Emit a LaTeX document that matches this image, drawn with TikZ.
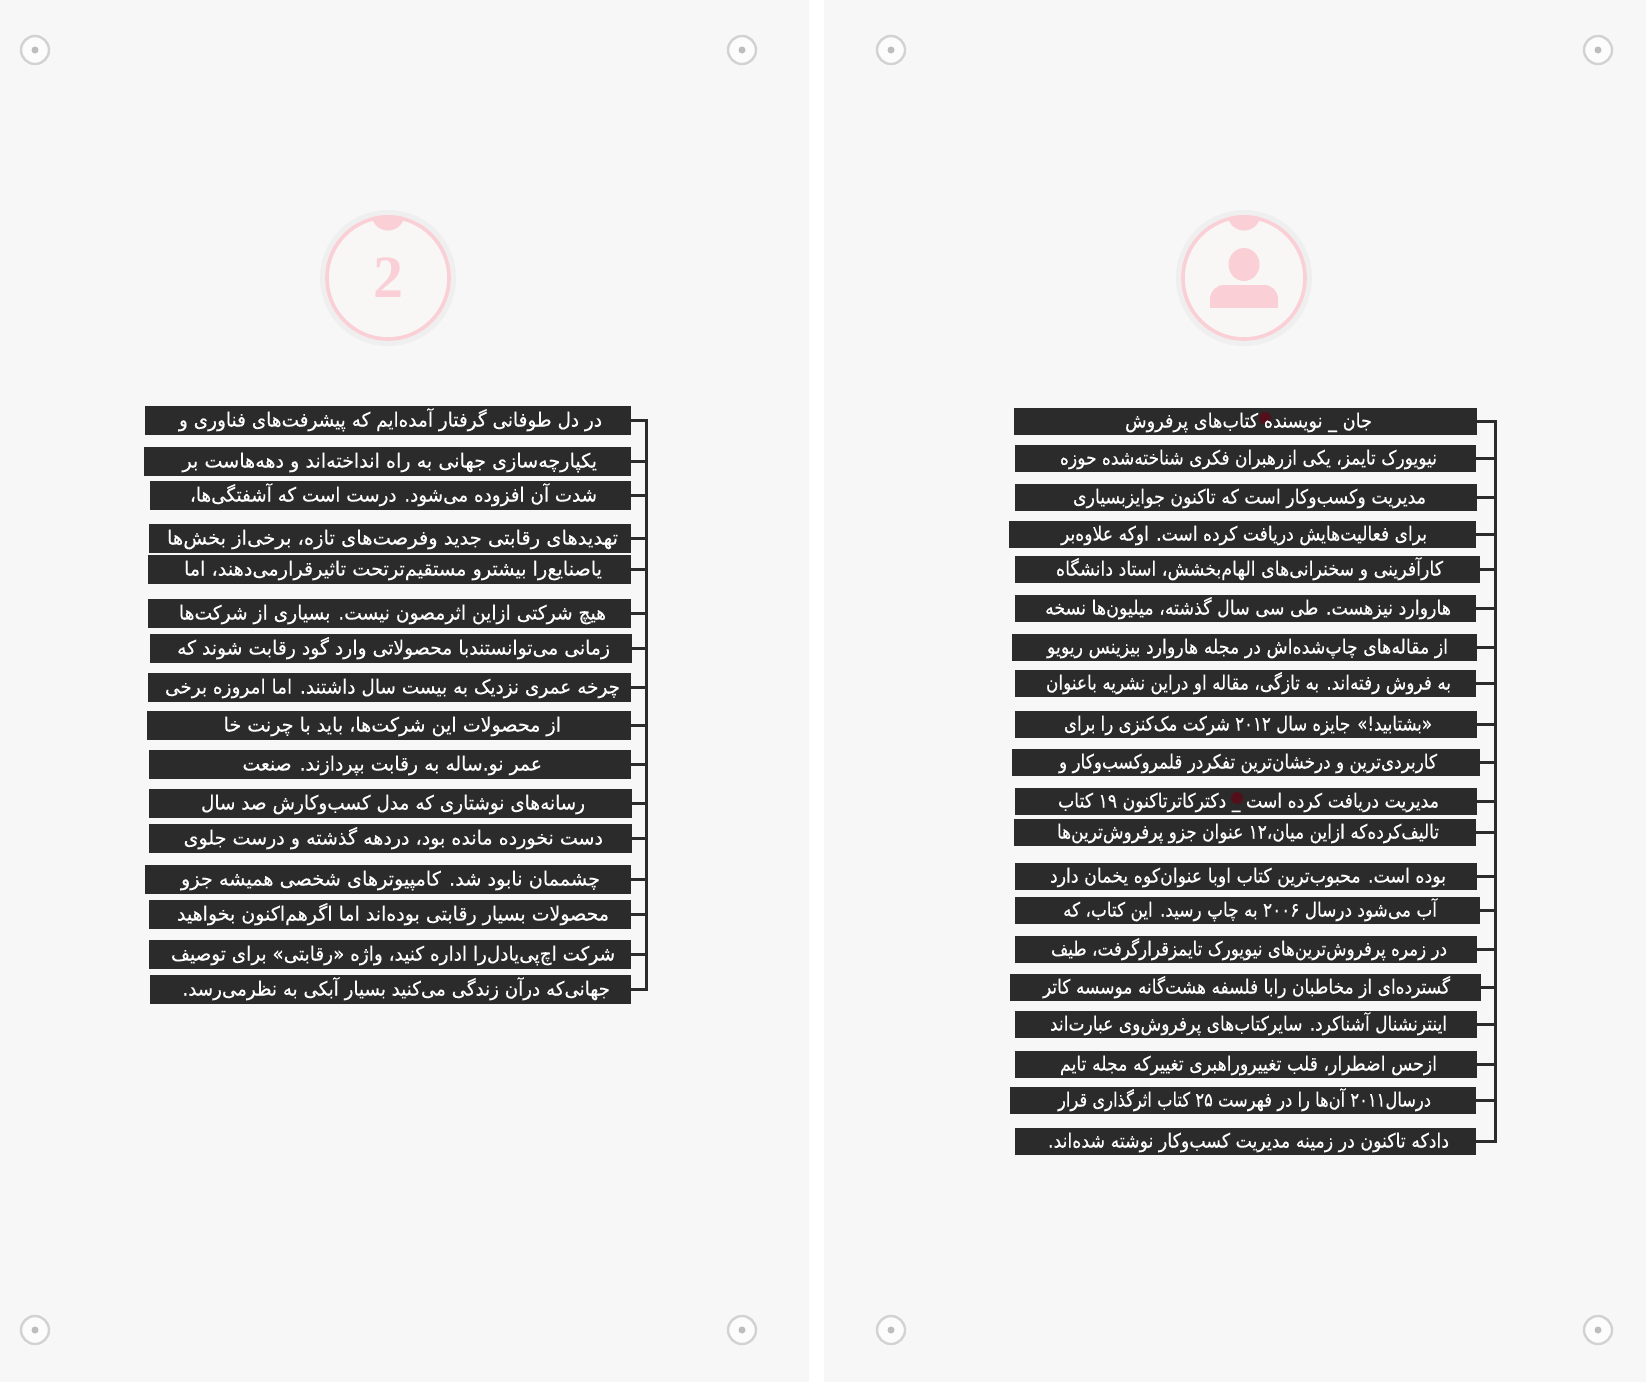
\documentclass[tikz,border=0pt]{standalone}
\usepackage{fontspec}
\usepackage{graphicx}
\usetikzlibrary{backgrounds}
\TeXXeTstate=1
\newfontfamily\farsi[Script=Arabic,FakeBold=0.3]{DejaVu Sans}
\newfontfamily\badgefont{Liberation Serif}
\definecolor{paperbg}{HTML}{F7F7F7}
\definecolor{barcol}{HTML}{2B2B2B}
\definecolor{pinkcol}{HTML}{FBCFD6}
\definecolor{halocol}{HTML}{EFEFEF}
\definecolor{facecol}{HTML}{F8F7F5}
\definecolor{pincol}{HTML}{D2D2D2}
\definecolor{dotcol}{HTML}{54101A}
\tikzset{
	panel/.style={fill=paperbg, draw=none},
	barbox/.style={fill=barcol, draw=none, inner sep=0pt, anchor=north west},
	bartext/.style={text=white, inner sep=0pt, anchor=base},
	wire/.style={draw=barcol, line width=3pt},
	pinring/.style={draw=pincol, line width=2.4pt, fill=white!60!paperbg},
	pindot/.style={fill=pincol!90!black, draw=none},
	stray/.style={fill=dotcol, draw=none}
}
% one dark row: (spine)(name)(left:right:top:bottom)(text left:text right){text}
\def\textrow(#1)(#2)(#3:#4:#5:#6)(#7:#8)#9{%
	\begin{scope}[on background layer]
		\pgfmathsetlengthmacro{\rowW}{(#4)-(#3)}
		\pgfmathsetlengthmacro{\rowH}{(#6)-(#5)}
		\node[barbox, minimum width=\rowW, minimum height=\rowH] (#2) at (#3, #5) {};
	\end{scope}
	\pgfmathsetlengthmacro{\textW}{(#8)-(#7)}
	\node[bartext] (#2t) at ({(#7+#8)/2}, {(#5+#6)/2+6}) {\resizebox{\textW}{\height}{\fontsize{19.5}{19.5}\farsi #9}};
	\draw[wire] (#2.east) -- (#2.east -| #1);
}
\def\pin(#1,#2){\draw[pinring] (#1, #2) circle (14); \fill[pindot] (#1, #2) circle (3.5);}
% round badge with the pink cap on top
\def\badge(#1,#2){%
	\fill[halocol] (#1, #2) circle (68);
	\draw[pinkcol, line width=3.6pt, fill=facecol] (#1, #2) circle (61);
	\begin{scope}
		\clip (#1, #2) circle (62.8);
		\fill[pinkcol] (#1, #2-64) circle (16.5);
	\end{scope}
}

\begin{document}
\begin{tikzpicture}[x=1pt, y=-1pt]
	%%%%% START %%%%%
	\useasboundingbox (0, 0) rectangle (1646, 1382);
	\begin{scope}[on background layer]
		\fill[white] (0, 0) rectangle (1646, 1382);
		\fill[panel] (0, 0) rectangle (809, 1382);
		\fill[panel] (824, 0) rectangle (1646, 1382);
	\end{scope}

	\pin(35,50) \pin(742,50) \pin(35,1330) \pin(742,1330)
	\pin(891,50) \pin(1598,50) \pin(891,1330) \pin(1598,1330)

	\badge(388,278)
	\node[text=pinkcol, inner sep=0pt] (two) at (388, 278) {\fontsize{60}{60}\badgefont\bfseries 2};

	\badge(1244,278)
	\fill[pinkcol] (1244, 264.5) ellipse (15.5 and 16.5);
	\fill[pinkcol, rounded corners=14pt] (1210, 320) -- (1210, 285) -- (1278, 285) -- (1278, 320) -- cycle;
	\fill[facecol] (1205, 307.5) rectangle (1283, 322);

	% left page
	\coordinate (ltop) at (646.8, 420);
	\coordinate (lbot) at (646.8, 989.5);
	\draw[wire, line cap=rect] (ltop) -- (lbot);
	\textrow(ltop)(la)(145:631:406:435)(179:602){\beginR در دل طوفانی گرفتار آمده‌ایم که پیشرفت‌های فناوری و\endR}
	\textrow(ltop)(lb)(144:631:447:476)(182.5:597){\beginR یکپارچه‌سازی جهانی به راه انداخته‌اند و دهه‌هاست بر\endR}
	\textrow(ltop)(lc)(150:631:481:510)(190:597){\beginR شدت آن افزوده می‌شود. درست است که آشفتگی‌ها،\endR}
	\textrow(ltop)(ld)(149:631:524:553)(167:618){\beginR تهدیدهای رقابتی جدید وفرصت‌های تازه، برخی‌از بخش‌ها\endR}
	\textrow(ltop)(le)(148:631:555:584)(184:602){\beginR یاصنایع‌را بیشترو مستقیم‌ترتحت تاثیرقرارمی‌دهند، اما\endR}
	\textrow(ltop)(lf)(148:631:599:628)(179:606){\beginR هیچ شرکتی ازاین اثرمصون نیست. بسیاری از شرکت‌ها\endR}
	\textrow(ltop)(lg)(150:632:634:663)(177:610){\beginR زمانی می‌توانستندبا محصولاتی وارد گود رقابت شوند که\endR}
	\textrow(ltop)(lh)(148:631:673:702)(165:620){\beginR چرخه عمری نزدیک به بیست سال داشتند. اما امروزه برخی\endR}
	\textrow(ltop)(li)(147:631:711:740)(223.6:561){\beginR از محصولات این شرکت‌ها، باید با چرنت خا\endR}
	\textrow(ltop)(lj)(149:631:750:779)(242.5:542){\beginR عمر نو.ساله به رقابت بپردازند. صنعت\endR}
	\textrow(ltop)(lk)(149:632:789:818)(201:585){\beginR رسانه‌های نوشتاری که مدل کسب‌وکارش صد سال\endR}
	\textrow(ltop)(ll)(149:632:824:853)(183.6:603){\beginR دست نخورده مانده بود، دردهه گذشته و درست جلوی\endR}
	\textrow(ltop)(lm)(145:631:865:894)(181:600){\beginR چشممان نابود شد. کامپیوترهای شخصی همیشه جزو\endR}
	\textrow(ltop)(ln)(149:631:900:929)(177:609){\beginR محصولات بسیار رقابتی بوده‌اند اما اگرهم‌اکنون بخواهید\endR}
	\textrow(ltop)(lo)(149:631:940:969)(171:615){\beginR شرکت اچ‌پی‌یادل‌را اداره کنید، واژه «رقابتی» برای توصیف\endR}
	\textrow(ltop)(lp)(150:631:975:1004)(182.5:610){\beginR جهانی‌که درآن زندگی می‌کنید بسیار آبکی به نظرمی‌رسد.\endR}

	% right page
	\coordinate (rtop) at (1495.7, 421);
	\coordinate (rbot) at (1495.7, 1141);
	\draw[wire, line cap=rect] (rtop) -- (rbot);
	\textrow(rtop)(ra)(1014:1477:408:435)(1125:1372){\beginR جان \_ نویسنده کتاب‌های پرفروش\endR}
	\textrow(rtop)(rb)(1015:1476:445:472)(1060:1437){\beginR نیویورک تایمز، یکی ازرهبران فکری شناخته‌شده حوزه\endR}
	\textrow(rtop)(rc)(1015:1477:484:511)(1073:1426){\beginR مدیریت وکسب‌وکار است که تاکنون جوایزبسیاری\endR}
	\textrow(rtop)(rd)(1009:1476:521:548)(1061:1427){\beginR برای فعالیت‌هایش دریافت کرده است. اوکه علاوه‌بر\endR}
	\textrow(rtop)(re)(1015:1480:556:583)(1056:1443){\beginR کارآفرینی و سخنرانی‌های الهام‌بخشش، استاد دانشگاه\endR}
	\textrow(rtop)(rf)(1015:1476:595:622)(1045:1451){\beginR هاروارد نیزهست. طی سی سال گذشته، میلیون‌ها نسخه\endR}
	\textrow(rtop)(rg)(1012:1477:634:661)(1047:1448){\beginR از مقاله‌های چاپ‌شده‌اش در مجله هاروارد بیزینس ریویو\endR}
	\textrow(rtop)(rh)(1015:1476:670:697)(1046:1451){\beginR به فروش رفته‌اند. به تازگی، مقاله او دراین نشریه باعنوان\endR}
	\textrow(rtop)(ri)(1015:1477:711:738)(1064:1432){\beginR «بشتابید!» جایزه سال \beginL ۲۰۱۲\endL{} شرکت مک‌کنزی را برای\endR}
	\textrow(rtop)(rj)(1012:1480:749:776)(1059:1437){\beginR کاربردی‌ترین و درخشان‌ترین تفکردر قلمروکسب‌وکار و\endR}
	\textrow(rtop)(rk)(1015:1477:788:815)(1058:1439){\beginR مدیریت دریافت کرده است \_ دکترکاترتاکنون \beginL ۱۹\endL{} کتاب\endR}
	\textrow(rtop)(rl)(1014:1476:819:846)(1057:1439){\beginR تالیف‌کرده‌که ازاین میان،\beginL ۱۲\endL{} عنوان جزو پرفروش‌ترین‌ها\endR}
	\textrow(rtop)(rm)(1015:1477:863:890)(1050:1446){\beginR بوده است. محبوب‌ترین کتاب اوبا عنوان‌کوه یخمان دارد\endR}
	\textrow(rtop)(rn)(1015:1480:897:924)(1063:1437){\beginR آب می‌شود درسال \beginL ۲۰۰۶\endL{} به چاپ رسید. این کتاب، که\endR}
	\textrow(rtop)(ro)(1015:1477:936:963)(1051:1447){\beginR در زمره پرفروش‌ترین‌های نیویورک تایمزقرارگرفت، طیف\endR}
	\textrow(rtop)(rp)(1010:1481:974:1001)(1043:1450){\beginR گسترده‌ای از مخاطبان رابا فلسفه هشت‌گانه موسسه کاتر\endR}
	\textrow(rtop)(rq)(1015:1477:1011:1038)(1050:1447){\beginR اینترنشنال آشناکرد. سایرکتاب‌های پرفروش‌وی عبارت‌اند\endR}
	\textrow(rtop)(rr)(1015:1477:1051:1078)(1060:1437){\beginR ازحس اضطرار، قلب تغییروراهبری تغییرکه مجله تایم\endR}
	\textrow(rtop)(rs)(1010:1476:1087:1114)(1058:1431){\beginR درسال\beginL ۲۰۱۱\endL{} آن‌ها را در فهرست \beginL ۲۵\endL{} کتاب اثرگذاری قرار\endR}
	\textrow(rtop)(rt)(1015:1476:1128:1155)(1048:1449){\beginR دادکه تاکنون در زمینه مدیریت کسب‌وکار نوشته شده‌اند.\endR}

	\begin{scope}[on background layer]
		\fill[stray] (1265, 418) circle (6);
		\fill[stray] (1237, 798) circle (6);
	\end{scope}
	%%%%% END %%%%%
\end{tikzpicture}
\end{document}
